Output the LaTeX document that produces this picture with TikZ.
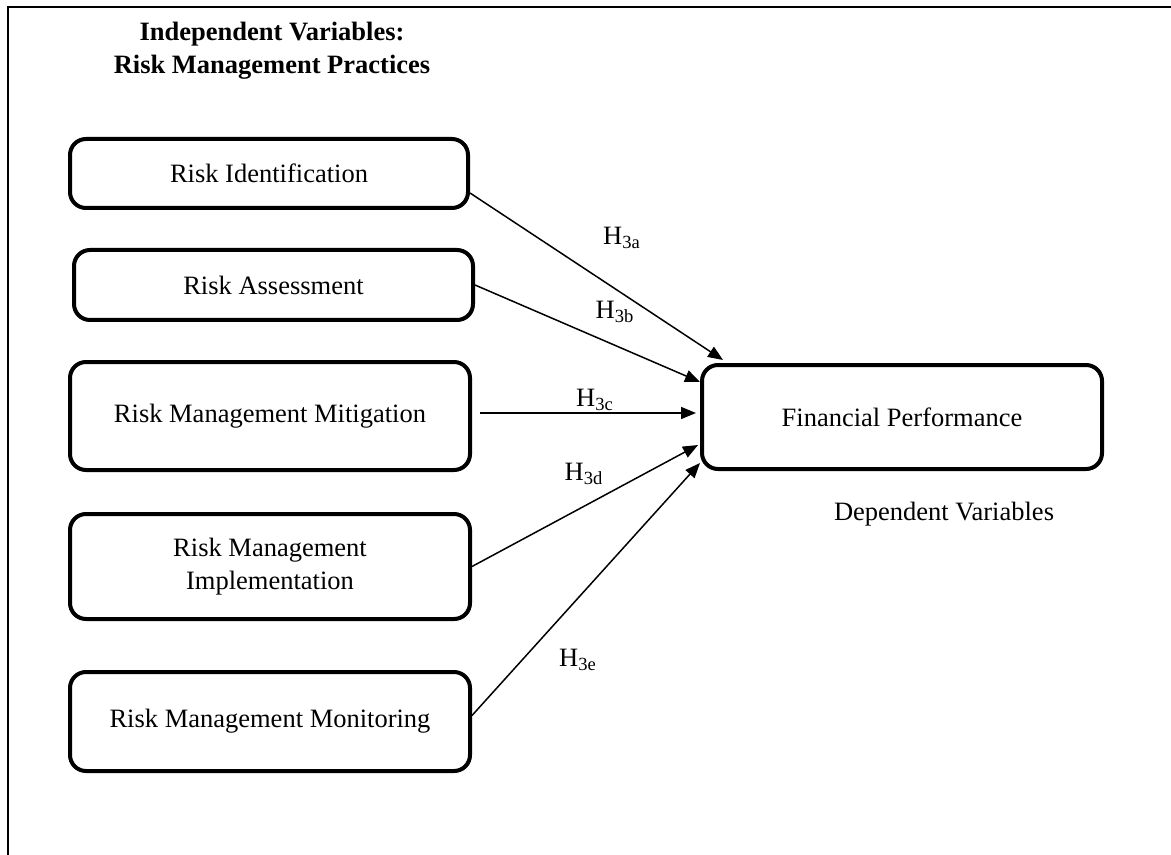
\documentclass[tikz,border=0pt]{standalone}
\usepackage{fontspec}
\setmainfont{Liberation Serif}
\usetikzlibrary{arrows.meta,shadows}

\begin{document}
\begin{tikzpicture}[x = .5pt, y = -.5pt]
    \tikzstyle{every node} = [font = \fontsize{13.25}{16.5}\selectfont];
    \tikzstyle{box} = [draw, fill = white, line width = 2pt, rounded corners = 8pt, align = center, inner sep = 0pt,
        drop shadow = {shadow xshift = .75pt, shadow yshift = -.75pt, opacity = .6}];
    \tikzstyle{link} = [line width = .75pt, -{Triangle[length = 7.5pt, width = 6pt]}];
    \useasboundingbox (0,0) rectangle (1171,855);
    % frame:
    \draw[line width = 1pt] (8,855) -- (8,7) -- (1171,7);
    % title:
    \node[font = \fontsize{13.25}{16.5}\selectfont\bfseries, align = center] (title) at (272,51)
        {Independent Variables:\\Risk Management Practices};
    % independent variables:
    \node[box, minimum width = 199pt, minimum height = 34.5pt] (ri) at (269,173.5) {Risk Identification};
    \node[box, minimum width = 199.5pt, minimum height = 35pt] (ra) at (273.5,285) {Risk Assessment};
    \node[box, minimum width = 200pt, minimum height = 54pt] (rmm) at (270,416) {Risk Management Mitigation};
    \node[box, minimum width = 200pt, minimum height = 52.5pt] (rmi) at (270,566.5) {Risk Management\\Implementation};
    \node[box, minimum width = 200pt, minimum height = 49.5pt] (rmo) at (270,721.5) {Risk Management Monitoring};
    % dependent variable:
    \node[box, minimum width = 200pt, minimum height = 52pt] (fp) at (902,417) {Financial Performance};
    \node (dv) at (944,514) {Dependent Variables};
    % hypotheses:
    \draw[link] ([yshift = -9.75pt]ri.east) -- ([xshift = 11.5pt, yshift = 1.5pt]fp.north west);
    \draw[link] (ra.east) -- ([yshift = 17.5pt]fp.west);
    \draw[link] ([xshift = 4pt, yshift = 1.5pt]rmm.east) -- ([xshift = -2pt, yshift = 2pt]fp.west);
    \draw[link] (rmi.east) -- ([xshift = -1pt, yshift = -14pt]fp.west);
    \draw[link] ([yshift = 3pt]rmo.east) -- ([yshift = -23pt]fp.west);
    \node (h3a) at (622,238) {H\textsubscript{3a}};
    \node (h3b) at (615,312) {H\textsubscript{3b}};
    \node (h3c) at (595,400) {H\textsubscript{3c}};
    \node (h3d) at (584,474) {H\textsubscript{3d}};
    \node (h3e) at (578,660) {H\textsubscript{3e}};
\end{tikzpicture}
\end{document}
